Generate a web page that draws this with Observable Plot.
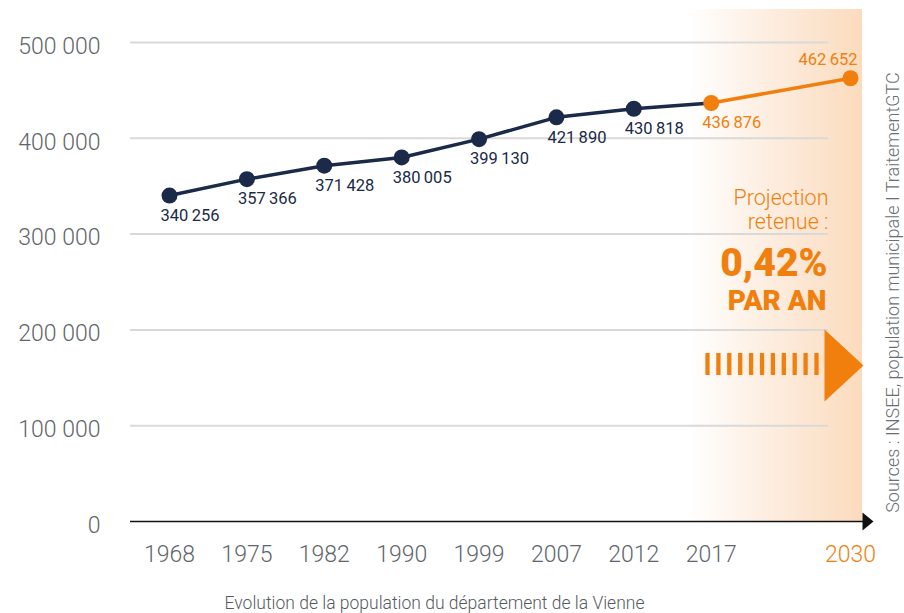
<!DOCTYPE html>
<html><head><meta charset="utf-8">
<script src="https://cdn.jsdelivr.net/npm/d3@7"></script>
<script src="https://cdn.jsdelivr.net/npm/@observablehq/plot@0.6"></script>
<style>body{margin:0;background:#fff;font-family:Roboto,"Noto Sans",sans-serif}</style>
</head><body><div id="chart"></div>
<script>
const years = ["1968","1975","1982","1990","1999","2007","2012","2017"];
const population = [340256,357366,371428,380005,399130,421890,430818,436876];
const projYear = "2030";
const projValue = 462652;
const yTicks = [0,100000,200000,300000,400000,500000];
const caption = "Evolution de la population du département de la Vienne";
const source = "Sources : INSEE, population municipale I TraitementGTC";
const annotation = ["Projection", "retenue :"];
const rate = "0,42%";
const rateUnit = "PAR AN";

const NAVY = "#1a2a48", ORANGE = "#f07f0e", GREY = "#60666b";
const fmtAxis = d => d3.format(",")(d).replace(/,/g, " ");
const fmt = d => d3.format(",")(d).replace(/,/g, "\u2009");

// slots: historical years evenly spaced, projection after a wider gap
const projSlot = years.length - 1 + 1.8;
const hist = years.map((y, i) => ({year: y, slot: i, value: population[i]}));
const proj = [hist[hist.length - 1], {year: projYear, slot: projSlot, value: projValue}];
const allPts = [...hist, proj[1]];

const X0 = 169, X1 = 850, Y0 = 521, Y1 = 42;
const xInv = px => (px - X0) / (X1 - X0) * projSlot;
const yInv = py => (Y0 - py) / (Y0 - Y1) * 500000;

const bars = d3.range(11).map(i => ({x: xInv(705 + 2 + i * 10.9)}));
const tri = [{x: xInv(824), y: yInv(329)}, {x: xInv(863), y: yInv(365)}, {x: xInv(824), y: yInv(401)}];
const axArrow = [{x: xInv(862), y: yInv(512)}, {x: xInv(873), y: yInv(521)}, {x: xInv(862), y: yInv(530)}];

const plot = Plot.plot({
  width: 904, height: 613,
  marginLeft: 130, marginRight: 42, marginTop: 9, marginBottom: 92,
  style: {fontFamily: "Roboto, sans-serif", background: "transparent"},
  x: {domain: [0, projSlot], range: [X0, X1], axis: null},
  y: {domain: [0, 500000], range: [Y0, Y1], axis: null},
  marks: [
    Plot.rect([0], {x1: xInv(688), x2: xInv(862), y1: 0, y2: yInv(9), fill: "url(#projGrad)"}),
    Plot.ruleY(yTicks.filter(d => d > 0), {x1: xInv(130), x2: xInv(828), stroke: "#d9d9d9", strokeWidth: 2}),
    Plot.ruleY([0], {x1: xInv(130), x2: xInv(864), stroke: "#111", strokeWidth: 1.5}),
    Plot.line(axArrow, {x: "x", y: "y", fill: "#111", stroke: "none"}),
    Plot.text(yTicks, {x: xInv(100), y: d => d, text: d => fmtAxis(d), textAnchor: "end", fontSize: 23, fontWeight: 300, fill: GREY, dy: 4}),
    Plot.text(allPts, {x: "slot", y: 0, text: "year", dy: 33, fontSize: 23, fontWeight: 300, fill: d => d.year === projYear ? ORANGE : GREY}),
    Plot.line(hist, {x: "slot", y: "value", stroke: NAVY, strokeWidth: 3.5}),
    Plot.line(proj, {x: "slot", y: "value", stroke: ORANGE, strokeWidth: 3.5}),
    Plot.dot(hist.slice(0, -1), {x: "slot", y: "value", r: 8, fill: NAVY}),
    Plot.dot(proj, {x: "slot", y: "value", r: 8, fill: ORANGE}),
    Plot.text(hist, {x: "slot", y: "value", text: d => fmt(d.value), textAnchor: "start", dx: -9, dy: 20, fontSize: 16.5, fontWeight: 400, letterSpacing: -0.5, fill: (d, i) => i === hist.length - 1 ? ORANGE : NAVY}),
    Plot.text([proj[1]], {x: "slot", y: "value", text: d => fmt(d.value), textAnchor: "end", dx: 7, dy: -19, fontSize: 16.5, fontWeight: 400, letterSpacing: -0.5, fill: ORANGE}),
    Plot.text(annotation, {x: projSlot, y: (d, i) => yInv(198 + i * 23.5), text: d => d, textAnchor: "end", dx: -22, fontSize: 21.5, fontWeight: 300, fill: ORANGE}),
    Plot.text([rate], {x: projSlot, y: yInv(263), text: d => d, textAnchor: "end", dx: -23, fontSize: 39, fontWeight: 900, fill: ORANGE}),
    Plot.text([rateUnit], {x: projSlot, y: yInv(301), text: d => d, textAnchor: "end", dx: -24, fontSize: 28, fontWeight: 900, fill: ORANGE}),
    Plot.ruleX(bars, {x: "x", y1: yInv(353), y2: yInv(375), stroke: ORANGE, strokeWidth: 4.3}),
    Plot.line(tri, {x: "x", y: "y", fill: ORANGE, stroke: "none"}),
    Plot.text([caption], {x: xInv(434), y: yInv(603), text: d => d, fontSize: 17.5, fontWeight: 300, fill: "#555a5e"}),
    Plot.text([source], {x: xInv(893), y: yInv(292), text: d => d, rotate: -90, fontSize: 18, fontWeight: 300, fill: "#6b6f73"})
  ]
});
const svg = d3.select(plot);
const defs = svg.insert("defs", ":first-child");
const g = defs.append("linearGradient").attr("id", "projGrad").attr("x1", "0").attr("x2", "1").attr("y1", "0").attr("y2", "0");
g.append("stop").attr("offset", "0").attr("stop-color", "#ffffff");
g.append("stop").attr("offset", "0.45").attr("stop-color", "#fdeee1");
g.append("stop").attr("offset", "1").attr("stop-color", "#fbdbbd");
document.getElementById("chart").appendChild(plot);
</script></body></html>
